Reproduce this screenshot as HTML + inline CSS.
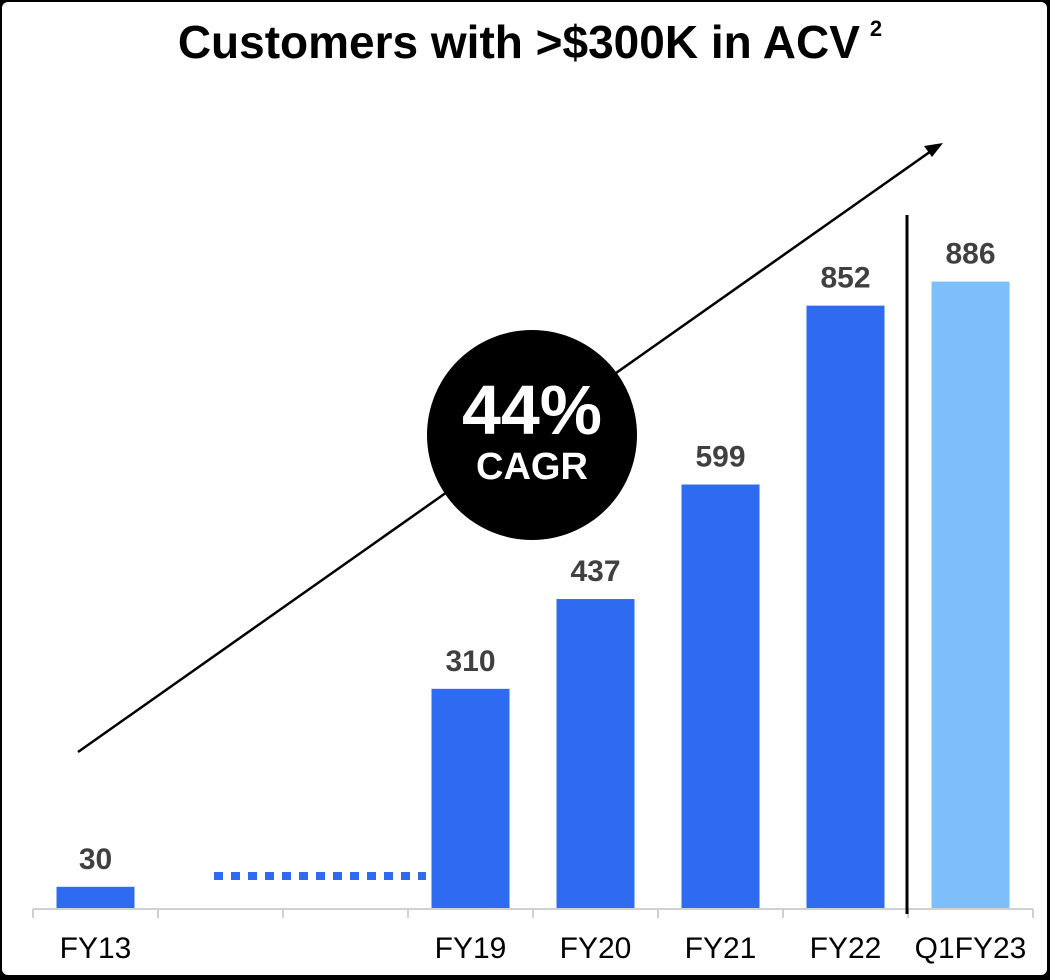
<!DOCTYPE html>
<html><head><meta charset="utf-8"><style>
html,body{margin:0;padding:0;background:#000;}
#frame{position:absolute;left:2px;top:2px;width:1045px;height:973px;background:#fff;border-radius:6px;overflow:hidden;}
svg{position:absolute;left:-2px;top:-2px;}
text{font-family:"Liberation Sans",sans-serif;}
</style></head><body>
<div id="frame">
<svg id="chart" width="1050" height="980">
<text x="530" y="58" text-anchor="middle" font-size="46" font-weight="bold" fill="#000">Customers with &gt;$300K in ACV<tspan dx="10" dy="-22" font-size="22">2</tspan></text>
<line x1="33" y1="909" x2="1033" y2="909" stroke="#d0d0d0" stroke-width="2"/>
<g id="ticks"></g>
<line x1="907" y1="215" x2="907" y2="914" stroke="#000" stroke-width="3"/>
<line x1="214" y1="876" x2="426" y2="876" stroke="#2e6bf0" stroke-width="8" stroke-dasharray="9 8"/>
<g id="bars"></g>
<line x1="78" y1="752" x2="934" y2="149" stroke="#000" stroke-width="2.5"/>
<polygon points="943,143 924,146 932,157" fill="#000"/>
<circle cx="532" cy="435" r="105" fill="#000"/>
<text x="532" y="434" text-anchor="middle" font-size="70" font-weight="bold" fill="#fff">44%</text>
<text x="532" y="479" text-anchor="middle" font-size="38" font-weight="bold" fill="#fff">CAGR</text>
</svg></div>
<script>
const categories=["FY13","","","FY19","FY20","FY21","FY22","Q1FY23"];
const values=[30,null,null,310,437,599,852,886];
const colors=["#2e6bf0","","","#2e6bf0","#2e6bf0","#2e6bf0","#2e6bf0","#7dbffa"];
const x0=33,slot=125,baseY=908,scale=0.707,bw=78;
const xc=i=>x0+slot*i+slot/2;
const y=v=>baseY-v*scale;
const NS="http://www.w3.org/2000/svg";
const bars=document.getElementById('bars'),ticks=document.getElementById('ticks');
for(let i=0;i<=categories.length;i++){
  const t=document.createElementNS(NS,'line');
  t.setAttribute('x1',x0+slot*i);t.setAttribute('x2',x0+slot*i);
  t.setAttribute('y1',909);t.setAttribute('y2',918);
  t.setAttribute('stroke','#d0d0d0');t.setAttribute('stroke-width','2');
  
  
  ticks.appendChild(t);
}
categories.forEach((c,i)=>{
  if(c){
    const l=document.createElementNS(NS,'text');
    l.setAttribute('x',xc(i));l.setAttribute('y',958);
    l.setAttribute('text-anchor','middle');l.setAttribute('font-size','30');
    l.textContent=c;
    
    
    ticks.appendChild(l);
  }
  const v=values[i];
  if(v==null)return;
  const r=document.createElementNS(NS,'rect');
  r.setAttribute('x',xc(i)-bw/2);r.setAttribute('y',y(v));
  r.setAttribute('width',bw);r.setAttribute('height',baseY-y(v));
  r.setAttribute('fill',colors[i]);
  
  
  bars.appendChild(r);
  const t=document.createElementNS(NS,'text');
  t.setAttribute('x',xc(i));t.setAttribute('y',y(v)-18);
  t.setAttribute('text-anchor','middle');t.setAttribute('font-size','30');
  t.setAttribute('font-weight','bold');t.setAttribute('fill','#404040');
  t.textContent=v;
  
  
  bars.appendChild(t);
});
</script>
</body></html>
